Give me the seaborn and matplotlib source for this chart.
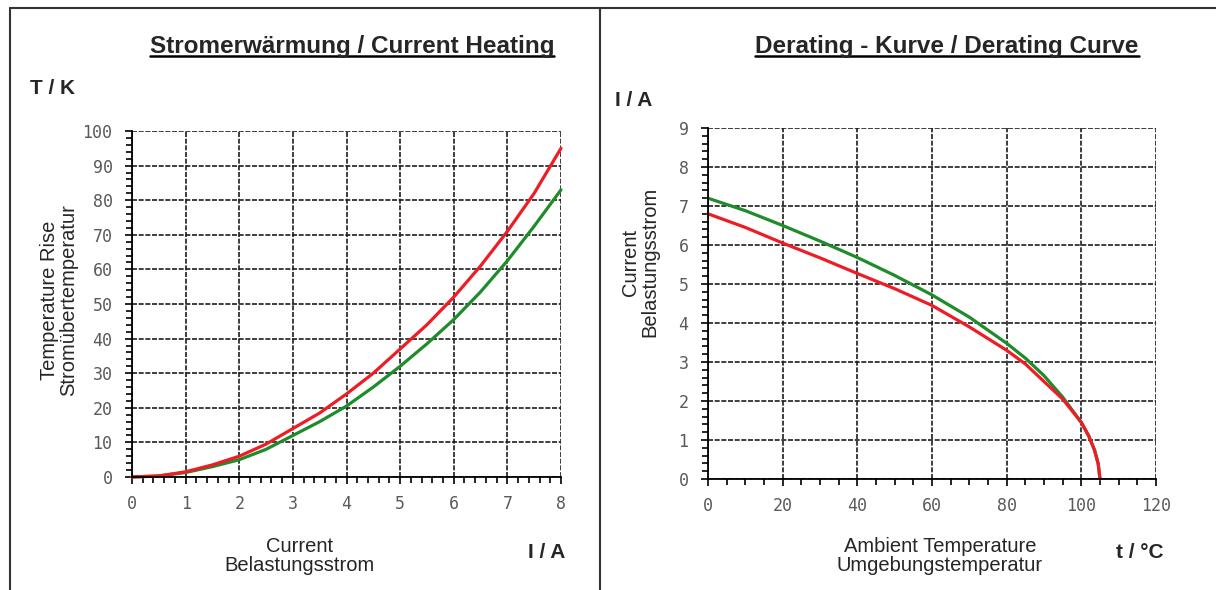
import numpy as np
import pandas as pd
import matplotlib
matplotlib.use("Agg")
import matplotlib.pyplot as plt
from matplotlib.lines import Line2D
from matplotlib.ticker import MultipleLocator
import seaborn as sns

# ---------------- data ----------------
current_A = [0, 0.5, 1, 1.5, 2, 2.5, 3, 3.5, 4, 4.5, 5, 5.5, 6, 6.5, 7, 7.5, 8]
rise_red = [0, 0.3, 1.5, 3.5, 6, 9.5, 14, 18.5, 24, 30, 37, 44, 52, 61, 71, 82, 95]
rise_green = [0, 0.3, 1.3, 3, 5, 8, 12, 16, 20.5, 26, 32, 38.5, 45.5, 53.5, 62.5, 72.5, 83]

ambient_C = [0, 10, 20, 30, 40, 50, 60, 70, 80, 85, 90, 95, 100, 102, 103.5, 104.5, 105]
derate_green = [7.2, 6.88, 6.5, 6.1, 5.68, 5.22, 4.72, 4.15, 3.48, 3.1, 2.65, 2.1, 1.45, 1.1, 0.75, 0.4, 0]
derate_red = [6.8, 6.45, 6.05, 5.67, 5.27, 4.88, 4.45, 3.9, 3.3, 2.95, 2.5, 2.05, 1.45, 1.1, 0.75, 0.4, 0]

left_xticks = [0, 1, 2, 3, 4, 5, 6, 7, 8]
left_yticks = [0, 10, 20, 30, 40, 50, 60, 70, 80, 90, 100]
right_xticks = [0, 20, 40, 60, 80, 100, 120]
right_yticks = [0, 1, 2, 3, 4, 5, 6, 7, 8, 9]

RED = "#ee1c25"
GREEN = "#1e8c2a"

sns.set_style("white")
plt.rcParams["font.family"] = ["Liberation Sans", "DejaVu Sans"]

W, H = 1216, 590
fig = plt.figure(figsize=(W / 100, H / 100), dpi=100)
fig.patch.set_facecolor("white")


def px_axes(x0, y_top, x1, y_bot):
    return fig.add_axes([x0 / W, 1 - y_bot / H, (x1 - x0) / W, (y_bot - y_top) / H])


def style_axes(ax, xmin, ymin, xlim, ylim, xticks, yticks):
    ax.set_xlim(*xlim)
    ax.set_ylim(*ylim)
    ax.set_xticks(xticks)
    ax.set_yticks(yticks)
    ax.xaxis.set_minor_locator(MultipleLocator(xmin))
    ax.yaxis.set_minor_locator(MultipleLocator(ymin))
    ax.grid(True, which="major", color="#1e1e1e", linestyle=(0, (3, 1)), linewidth=1.2)
    for s in ["top", "right"]:
        ax.spines[s].set_visible(False)
    for s in ["left", "bottom"]:
        ax.spines[s].set_color("black")
        ax.spines[s].set_linewidth(1.3)
    ax.tick_params(which="both", bottom=True, left=True, top=False, right=False)
    ax.tick_params(which="major", direction="out", length=5, width=1.2, color="black",
                   labelsize=12, labelcolor="#5a5a5a")
    ax.tick_params(which="minor", direction="out", length=4, width=1.2, color="black")
    ax.tick_params(axis="y", which="major", pad=9)
    ax.tick_params(axis="x", which="major", pad=8)
    for lab in ax.get_xticklabels() + ax.get_yticklabels():
        lab.set_fontfamily("DejaVu Sans Mono")
    ax.set_xlabel("")
    ax.set_ylabel("")
    ax.set_axisbelow(True)


# ---------------- left chart ----------------
ax1 = px_axes(132, 131, 561, 477)
df1 = pd.DataFrame({"I": current_A, "red": rise_red, "green": rise_green})
sns.lineplot(data=df1, x="I", y="green", ax=ax1, color=GREEN, linewidth=2.3)
sns.lineplot(data=df1, x="I", y="red", ax=ax1, color=RED, linewidth=2.3)
style_axes(ax1, 0.2, 2, (0, 8), (0, 100), left_xticks, left_yticks)
for line in ax1.lines:
    line.set_clip_on(False)

# ---------------- right chart ----------------
ax2 = px_axes(708, 128, 1156, 479)
df2 = pd.DataFrame({"t": ambient_C, "red": derate_red, "green": derate_green})
sns.lineplot(data=df2, x="t", y="green", ax=ax2, color=GREEN, linewidth=2.3, sort=False)
sns.lineplot(data=df2, x="t", y="red", ax=ax2, color=RED, linewidth=2.3, sort=False)
style_axes(ax2, 5, 0.2, (0, 120), (0, 9), right_xticks, right_yticks)
for line in ax2.lines:
    line.set_clip_on(False)


# ---------------- texts ----------------
def ftext(x, y, s, **kw):
    return fig.text(x / W, 1 - y / H, s, **kw)


t1 = ftext(352, 46, "Stromerwärmung / Current Heating", ha="center", va="center",
           fontsize=17.5, fontweight="bold")
t2 = ftext(947, 46, "Derating - Kurve / Derating Curve", ha="center", va="center",
           fontsize=17.5, fontweight="bold")

ftext(30, 88, "T / K", ha="left", va="center", fontsize=15, fontweight="bold")
ftext(59, 300, "Temperature Rise\nStromübertemperatur", ha="center", va="center",
      rotation=90, fontsize=14.5, linespacing=1.05)
ftext(300, 556, "Current\nBelastungsstrom", ha="center", va="center",
      fontsize=14.5, linespacing=1.05)
ftext(547, 553, "I / A", ha="center", va="center", fontsize=15, fontweight="bold")

ftext(615, 100, "I / A", ha="left", va="center", fontsize=15, fontweight="bold")
ftext(640, 262, "Current\nBelastungsstrom", ha="center", va="center",
      rotation=90, fontsize=14.5, linespacing=1.05)
ftext(940, 556, "Ambient Temperature\nUmgebungstemperatur", ha="center", va="center",
      fontsize=14.5, linespacing=1.05)
ftext(1140, 553, "t / °C", ha="center", va="center", fontsize=15, fontweight="bold")

# underline titles
fig.canvas.draw()
renderer = fig.canvas.get_renderer()
for t in (t1, t2):
    bb = t.get_window_extent(renderer=renderer).transformed(fig.transFigure.inverted())
    yline = bb.y0 + 0.08 * (bb.y1 - bb.y0)
    fig.add_artist(Line2D([bb.x0, bb.x1], [yline, yline], transform=fig.transFigure,
                          color="black", linewidth=1.8))

# frame lines
frame_kw = dict(transform=fig.transFigure, color="#333333", linewidth=1.5)
fig.add_artist(Line2D([10 / W, 1.0], [1 - 8 / H, 1 - 8 / H], **frame_kw))
fig.add_artist(Line2D([10 / W, 10 / W], [0, 1 - 8 / H], **frame_kw))
fig.add_artist(Line2D([600 / W, 600 / W], [0, 1 - 8 / H], **frame_kw))

fig.savefig("out.png", dpi=100)
